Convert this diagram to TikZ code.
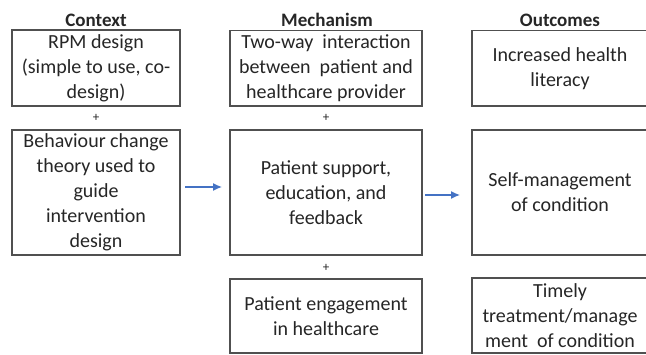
\documentclass[tikz,border=0pt]{standalone}
\usepackage{fontspec}
\setmainfont{Carlito}
\usetikzlibrary{arrows.meta}
\definecolor{arrowblue}{HTML}{4472C4}
\definecolor{boxline}{HTML}{505050}
\definecolor{txt}{HTML}{262626}
\tikzset{
  box/.style={draw=boxline, line width=1.6pt, rectangle, outer sep=0pt, inner sep=0pt,
    align=center, text=txt, font=\fontsize{20}{25}\selectfont},
  ctxbox/.style={box, minimum width=168pt},
  mechbox/.style={box, minimum width=192pt},
  outbox/.style={box, minimum width=176pt},
  header/.style={font=\bfseries\fontsize{19}{21}\selectfont, text=txt, inner sep=0pt},
  plus/.style={font=\fontsize{13}{14}\selectfont, text=txt, inner sep=0pt},
  flow/.style={draw=arrowblue, line width=1.3pt, -{Latex[length=9pt,width=8pt]}}
}
\begin{document}
\begin{tikzpicture}[x=1pt,y=-1pt]
\useasboundingbox (0,0) rectangle (646,355);
\clip (0,0) rectangle (646,355);
\fill[white] (0,0) rectangle (646,355);
% headers
\node[header] (hc) at (96,20) {Context};
\node[header] (hm) at (327,20) {Mechanism};
\node[header] (ho) at (560,20) {Outcomes};
% context
\node[ctxbox, minimum height=76pt] (c1) at (96,68) {RPM design\\(simple to use, co-\\design)};
\node[plus] (p1) at (96,118) {+};
\node[ctxbox, minimum height=125pt] (c2) at (96,192.5) {Behaviour change\\theory used to\\guide\\intervention\\design};
% mechanism
\node[mechbox, minimum height=75.5pt] (m1) at (326,68.25) {Two-way\ \ interaction\\between\ \ patient and\\healthcare provider};
\node[plus] (p2) at (326,118) {+};
\node[mechbox, minimum height=125pt] (m2) at (326,192.5) {Patient support,\\education, and\\feedback};
\node[plus] (p3) at (326,268) {+};
\node[mechbox, minimum height=74pt] (m3) at (326,316) {Patient engagement\\in healthcare};
% outcomes
\node[outbox, minimum height=75.5pt] (o1) at (560,68.25) {Increased health\\literacy};
\node[outbox, minimum height=125pt] (o2) at (560,192.5) {Self-management\\of condition};
\node[outbox, minimum height=75pt] (o3) at (560,315.5) {Timely\\treatment/manage\\ment\ \ of condition};
% arrows
\draw[flow, shorten <=5pt, shorten >=8pt] ([yshift=5.5pt]c2.east) -- ([yshift=5.5pt]m2.west);
\draw[flow, shorten <=3pt, shorten >=12pt] ([yshift=-2.5pt]m2.east) -- ([yshift=-2.5pt]o2.west);
\end{tikzpicture}
\end{document}
